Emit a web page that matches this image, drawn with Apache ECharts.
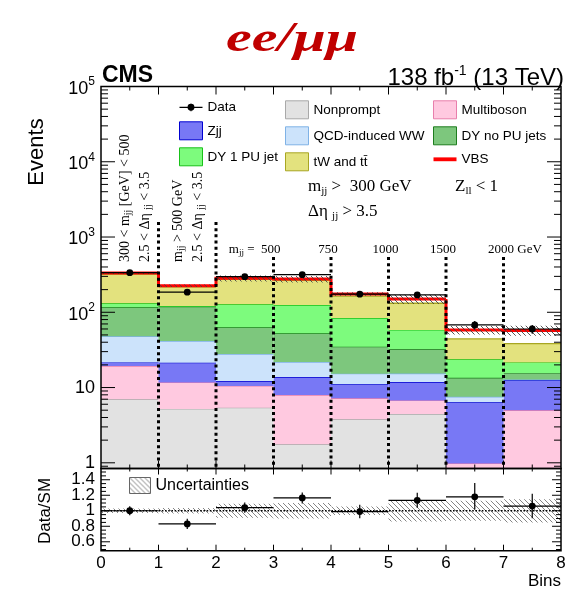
<!DOCTYPE html>
<html><head><meta charset="utf-8">
<script src="https://cdn.jsdelivr.net/npm/echarts@6/dist/echarts.min.js"></script>
<style>html,body{margin:0;padding:0;background:#fff}#c{width:569px;height:591px}</style>
</head><body><div id="c"></div>
<script>
// ---------------- data ----------------
const bins = [0, 1, 2, 3, 4, 5, 6, 7];
const nonprompt  = [6.97, 5.2, 5.4, 1.76, 3.78, 4.44, 0, 0];
const multiboson = [12.3, 6.5, 5.1, 6.2, 3.4, 2.3, 0.98, 4.98];
const zjj        = [2.3, 9.7, 1.7, 5.85, 3.85, 5.07, 5.38, 7.6];
const qcdWW      = [26.4, 20.1, 15.7, 8.0, 4.25, 3.5, 1.19, 0.2];
const dyNoPU     = [68.5, 77.2, 35.3, 30.8, 19.6, 17.2, 5.94, 2.85];
const dy1PU      = [15.3, 2.5, 64.5, 72.4, 49.1, 25.7, 10.2, 5.95];
const tWtt       = [190, 97, 147, 141, 80, 73.6, 20.5, 16.8];
const vbs        = [10, 7, 8, 10, 11, 18, 14, 19];
const dataVals   = [336, 185, 297, 316, 174, 170, 68, 60];
const dataErr    = [18, 14, 17, 18, 13, 13, 8.5, 8];
const relUnc     = [0.03, 0.035, 0.09, 0.10, 0.055, 0.14, 0.13, 0.15];
const ratioVals  = [1.00, 0.83, 1.04, 1.165, 0.99, 1.135, 1.18, 1.06];
const ratioErrUp = [0.058, 0.066, 0.066, 0.07, 0.086, 0.097, 0.177, 0.16];
const ratioErrDn = [0.058, 0.066, 0.066, 0.07, 0.086, 0.097, 0.163, 0.155];
const yMajorExp  = [0, 1, 2, 3, 4, 5];
const ratioLabelVals = [0.6, 0.8, 1.0, 1.2, 1.4];
const xLabelVals = [0, 1, 2, 3, 4, 5, 6, 7, 8];
const dividerEdges = [1, 2, 3, 4, 5, 6, 7];

// ---------------- styles / layout ----------------
const SANS = '"Liberation Sans", Arial, sans-serif';
const SERIF = '"Liberation Serif", "Times New Roman", serif';
const yMinLog = Math.log10(0.84), yMaxLog = 5;
const rMin = 0.485, rMax = 1.545;
const dividerTopLog = [3.2, 3.2, 2.733, 2.733, 2.733, 2.733, 2.733];

const components = [
  {name: 'Nonprompt', vals: nonprompt, fill: '#e2e2e2', line: '#a9a9a9'},
  {name: 'Multiboson', vals: multiboson, fill: '#ffc9e0', line: '#e87fac'},
  {name: 'Zjj', vals: zjj, fill: '#7878f5', line: '#0000d0'},
  {name: 'QCD-induced WW', vals: qcdWW, fill: '#cce3fb', line: '#7fb2e6'},
  {name: 'DY no PU jets', vals: dyNoPU, fill: '#7dc77d', line: '#1e7d1e'},
  {name: 'DY 1 PU jet', vals: dy1PU, fill: '#7dfb7d', line: '#19c119'},
  {name: 'tW and tt\u0304', vals: tWtt, fill: '#e3e27e', line: '#a8a623'}
];

function hatch(color, s, lw) {
  const c = document.createElement('canvas');
  c.width = s; c.height = s;
  const ctx = c.getContext('2d');
  ctx.strokeStyle = color; ctx.lineWidth = lw;
  ctx.beginPath();
  for (const o of [-s, 0, s]) { ctx.moveTo(o, 0); ctx.lineTo(o + s, s); }
  ctx.stroke();
  return {image: c, repeat: 'repeat'};
}
const hatchMain = hatch('#444', 5, 0.9);
const hatchRatio = hatch('#777', 5, 0.9);

const lg = v => Math.max(yMinLog, Math.log10(Math.max(v, 1e-9)));

// cumulative stacks
const cum = bins.map(() => 0);
const stackSeries = components.map(c => {
  const data = bins.map(i => {
    const lo = cum[i]; const hi = lo + c.vals[i]; cum[i] = hi;
    return [i, lg(lo), lg(hi)];
  });
  return {
    type: 'custom', name: c.name, xAxisIndex: 0, yAxisIndex: 0, z: 2, silent: true,
    itemStyle: {color: c.fill, borderColor: c.line, borderWidth: 1},
    data,
    renderItem(params, api) {
      const i = api.value(0), lo = api.value(1), hi = api.value(2);
      if (!(hi > lo)) return;
      const p0 = api.coord([i, lo]), p1 = api.coord([i + 1, hi]);
      return {type: 'group', children: [
        {type: 'rect', shape: {x: p0[0], y: p1[1], width: p1[0] - p0[0], height: p0[1] - p1[1]}, style: {fill: c.fill}},
        {type: 'line', shape: {x1: p0[0], y1: p1[1], x2: p1[0], y2: p1[1]}, style: {stroke: c.line, lineWidth: 1.3}}
      ]};
    }
  };
});
const totals = bins.map(i => cum[i] + vbs[i]);

// ticks (decoration)
const mainYTicks = yMajorExp.map(e => [e, 1]);
for (let e = -1; e <= 4; e++) for (let k = 2; k <= 9; k++) {
  const v = Math.log10(k) + e; if (v > yMinLog && v < yMaxLog) mainYTicks.push([v, 0]);
}
const mainXTicks = [];
for (let k = 1; k < 16; k++) mainXTicks.push([k / 2, k % 2 === 0 ? 1 : 0]);
const ratioYTicks = [];
for (let k = 10; k <= 30; k++) { const v = k * 0.05; if (v > rMin && v < rMax) ratioYTicks.push([v, k % 4 === 0 ? 1 : 0]); }

function tickSeries(xi, yi, yTicks, xTicks, yLen, xLen) {
  return [{
    type: 'custom', xAxisIndex: xi, yAxisIndex: yi, z: 20, silent: true,
    data: yTicks,
    renderItem(params, api) {
      const cs = params.coordSys; const p = api.coord([0, api.value(0)]);
      const len = api.value(1) ? yLen[0] : yLen[1];
      return {type: 'group', children: [
        {type: 'line', shape: {x1: cs.x, y1: p[1], x2: cs.x + len, y2: p[1]}, style: {stroke: '#000', lineWidth: 1}},
        {type: 'line', shape: {x1: cs.x + cs.width, y1: p[1], x2: cs.x + cs.width - len, y2: p[1]}, style: {stroke: '#000', lineWidth: 1}}
      ]};
    }
  }, {
    type: 'custom', xAxisIndex: xi, yAxisIndex: yi, z: 20, silent: true,
    data: xTicks,
    renderItem(params, api) {
      const cs = params.coordSys; const p = api.coord([api.value(0), 0]);
      const len = api.value(1) ? xLen[0] : xLen[1];
      return {type: 'group', children: [
        {type: 'line', shape: {x1: p[0], y1: cs.y + cs.height, x2: p[0], y2: cs.y + cs.height - len}, style: {stroke: '#000', lineWidth: 1}},
        {type: 'line', shape: {x1: p[0], y1: cs.y, x2: p[0], y2: cs.y + len}, style: {stroke: '#000', lineWidth: 1}}
      ]};
    }
  }, {
    type: 'custom', xAxisIndex: xi, yAxisIndex: yi, z: 21, silent: true,
    data: [[0, 0]],
    renderItem(params) {
      const cs = params.coordSys;
      return {type: 'rect', shape: {x: cs.x, y: cs.y, width: cs.width, height: cs.height}, style: {fill: 'none', stroke: '#000', lineWidth: 1.5}};
    }
  }];
}

const series = [
  ...stackSeries,
  { // VBS: red line at total
    type: 'custom', name: 'VBS', xAxisIndex: 0, yAxisIndex: 0, z: 4, silent: true,
    itemStyle: {color: '#ff0000'},
    data: bins.map(i => [i, lg(totals[i]), lg(totals[i > 0 ? i - 1 : 0])]),
    renderItem(params, api) {
      const i = api.value(0);
      const a = api.coord([i, api.value(1)]), b = api.coord([i + 1, api.value(1)]), c = api.coord([i, api.value(2)]);
      return {type: 'polyline', shape: {points: [[c[0], c[1]], [a[0], a[1]], [b[0], b[1]]]}, style: {stroke: '#ff0000', lineWidth: 3, fill: 'none'}};
    }
  },
  { // uncertainty band on total
    type: 'custom', xAxisIndex: 0, yAxisIndex: 0, z: 5, silent: true,
    data: bins.map(i => [i, lg(totals[i] * (1 - relUnc[i])), lg(totals[i] * (1 + relUnc[i]))]),
    renderItem(params, api) {
      const i = api.value(0);
      const p0 = api.coord([i, api.value(1)]), p1 = api.coord([i + 1, api.value(2)]);
      return {type: 'rect', shape: {x: p0[0], y: p1[1], width: p1[0] - p0[0], height: p0[1] - p1[1]}, style: {fill: hatchMain}};
    }
  },
  { // bin dividers
    type: 'custom', xAxisIndex: 0, yAxisIndex: 0, z: 6, silent: true,
    data: dividerEdges.map((b, k) => [b, dividerTopLog[k]]),
    renderItem(params, api) {
      const p0 = api.coord([api.value(0), api.value(1)]), p1 = api.coord([api.value(0), yMinLog]);
      return {type: 'line', shape: {x1: p0[0], y1: p0[1], x2: p1[0], y2: p1[1]}, style: {stroke: '#000', lineWidth: 3, lineDash: [3, 3.2]}};
    }
  },
  { // data points
    type: 'custom', name: 'Data', xAxisIndex: 0, yAxisIndex: 0, z: 8, silent: true,
    itemStyle: {color: '#000'},
    data: bins.map(i => [i, Math.log10(dataVals[i]), Math.log10(dataVals[i] - dataErr[i]), Math.log10(dataVals[i] + dataErr[i])]),
    renderItem(params, api) {
      const i = api.value(0);
      const pc = api.coord([i + 0.5, api.value(1)]), pl = api.coord([i, api.value(1)]), pr = api.coord([i + 1, api.value(1)]);
      const plo = api.coord([i + 0.5, api.value(2)]), phi = api.coord([i + 0.5, api.value(3)]);
      return {type: 'group', children: [
        {type: 'line', shape: {x1: pl[0], y1: pc[1], x2: pr[0], y2: pc[1]}, style: {stroke: '#000', lineWidth: 1.2}},
        {type: 'line', shape: {x1: pc[0], y1: plo[1], x2: pc[0], y2: phi[1]}, style: {stroke: '#000', lineWidth: 1.2}},
        {type: 'circle', shape: {cx: pc[0], cy: pc[1], r: 3.4}, style: {fill: '#000'}}
      ]};
    }
  },
  ...tickSeries(0, 0, mainYTicks, mainXTicks, [14, 7], [8, 4]),
  { // ratio uncertainty band
    type: 'custom', name: 'Uncertainties', xAxisIndex: 1, yAxisIndex: 1, z: 3, silent: true,
    itemStyle: {color: hatchRatio, borderColor: '#666', borderWidth: 1},
    data: bins.map(i => [i, 1 - relUnc[i], 1 + relUnc[i]]),
    renderItem(params, api) {
      const i = api.value(0);
      const p0 = api.coord([i, api.value(1)]), p1 = api.coord([i + 1, api.value(2)]);
      return {type: 'rect', shape: {x: p0[0], y: p1[1], width: p1[0] - p0[0], height: p0[1] - p1[1]}, style: {fill: hatchRatio}};
    }
  },
  { // ratio reference line
    type: 'custom', xAxisIndex: 1, yAxisIndex: 1, z: 4, silent: true,
    data: [[0, 1]],
    renderItem(params, api) {
      const a = api.coord([0, 1]), b = api.coord([8, 1]);
      return {type: 'line', shape: {x1: a[0], y1: a[1], x2: b[0], y2: b[1]}, style: {stroke: '#000', lineWidth: 1.6, lineDash: [1.6, 1.6]}};
    }
  },
  { // ratio points
    type: 'custom', xAxisIndex: 1, yAxisIndex: 1, z: 8, silent: true,
    data: bins.map(i => [i, ratioVals[i], ratioVals[i] - ratioErrDn[i], ratioVals[i] + ratioErrUp[i]]),
    renderItem(params, api) {
      const i = api.value(0);
      const pc = api.coord([i + 0.5, api.value(1)]), pl = api.coord([i, api.value(1)]), pr = api.coord([i + 1, api.value(1)]);
      const plo = api.coord([i + 0.5, api.value(2)]), phi = api.coord([i + 0.5, api.value(3)]);
      return {type: 'group', children: [
        {type: 'line', shape: {x1: pl[0], y1: pc[1], x2: pr[0], y2: pc[1]}, style: {stroke: '#000', lineWidth: 1.2}},
        {type: 'line', shape: {x1: pc[0], y1: plo[1], x2: pc[0], y2: phi[1]}, style: {stroke: '#000', lineWidth: 1.2}},
        {type: 'circle', shape: {cx: pc[0], cy: pc[1], r: 3.4}, style: {fill: '#000'}}
      ]};
    }
  },
  { // ratio axis tick labels (drawn through the ratio axis scale)
    type: 'custom', xAxisIndex: 1, yAxisIndex: 1, z: 22, silent: true, clip: false,
    data: ratioLabelVals.map(v => [0, v]),
    renderItem(params, api) {
      const cs = params.coordSys; const v = api.value(1); const p = api.coord([0, v]);
      return {type: 'text', x: cs.x - 6, y: p[1], style: {text: String(Math.round(v * 10) / 10),
        font: '17px ' + SANS, fill: '#000', align: 'right', verticalAlign: 'middle'}};
    }
  },
  ...tickSeries(1, 1, ratioYTicks, mainXTicks, [9, 5], [6, 3])
];

const legendText = {fontFamily: SANS, fontSize: 13.5, color: '#000'};
function legendCol(left, items) {
  return {
    left, top: 100.3, orient: 'vertical', itemGap: 7, itemWidth: 23, itemHeight: 18,
    selectedMode: false, textStyle: legendText, padding: 0,
    data: items
  };
}
const boxItem = (name) => {
  const c = components.find(x => x.name === name);
  return {name, icon: 'rect', itemStyle: {color: c.fill, borderColor: c.line, borderWidth: 1}};
};

const option = {
  animation: false,
  backgroundColor: '#fff',
  grid: [
    {left: 101, top: 86.5, width: 460, height: 382, containLabel: false, outerBoundsMode: 'none'},
    {left: 101, top: 468.5, width: 460, height: 82.2, containLabel: false, outerBoundsMode: 'none'}
  ],
  xAxis: [
    {gridIndex: 0, type: 'value', min: 0, max: 8, show: false},
    {gridIndex: 1, type: 'value', min: 0, max: 8, interval: 1,
     axisLine: {show: false}, axisTick: {show: false}, splitLine: {show: false},
     axisLabel: {customValues: xLabelVals, fontFamily: SANS, fontSize: 17, color: '#000', margin: 4}}
  ],
  yAxis: [
    {gridIndex: 0, type: 'value', min: yMinLog, max: yMaxLog,
     axisLine: {show: false}, axisTick: {show: false}, splitLine: {show: false},
     axisLabel: {customValues: yMajorExp, fontFamily: SANS, fontSize: 18, color: '#000', margin: 6, hideOverlap: false,
       formatter: v => { const e = Math.round(v); if (e === 0) return '1'; if (e === 1) return '10'; return '{b|10}{s|' + e + '}'; },
       rich: {
         b: {fontFamily: SANS, fontSize: 18, color: '#000', padding: [5, 0, 0, 0]},
         s: {fontFamily: SANS, fontSize: 12, color: '#000', padding: [0, 0, 9, 0]}
       }}},
    {gridIndex: 1, type: 'value', min: rMin, max: rMax,
     axisLine: {show: false}, axisTick: {show: false}, splitLine: {show: false}, axisLabel: {show: false}}
  ],
  legend: [
    legendCol(179, [
      {name: 'Data', icon: 'path://M0,3.4H24V4.6H0Z M11.4,0H12.6V8H11.4Z M15.6,4A3.6,3.6,0,1,1,8.4,4A3.6,3.6,0,1,1,15.6,4Z', itemStyle: {color: '#000', borderWidth: 0}},
      boxItem('Zjj'), boxItem('DY 1 PU jet')]),
    legendCol(285, [boxItem('Nonprompt'), boxItem('QCD-induced WW'), boxItem('tW and tt\u0304')]),
    legendCol(433, [boxItem('Multiboson'), boxItem('DY no PU jets'),
      {name: 'VBS', icon: 'path://M0,0H24V4H0Z', itemStyle: {color: '#ff0000', borderWidth: 0}}]),
    {left: 129, top: 477, itemWidth: 21, itemHeight: 16, selectedMode: false, padding: 0,
     textStyle: {fontFamily: SANS, fontSize: 16, color: '#000'},
     data: [{name: 'Uncertainties', icon: 'rect', itemStyle: {color: hatchRatio, borderColor: '#666', borderWidth: 1}}]}
  ],
  series
};

const chart = echarts.init(document.getElementById('c'), null, {renderer: 'canvas', width: 569, height: 591});
chart.setOption(option);

const px = b => chart.convertToPixel({xAxisIndex: 0}, b);
const serifRich = (fs, sfs, pad) => ({
  n: {fontFamily: SERIF, fontSize: fs, fill: '#000'},
  s: {fontFamily: SERIF, fontSize: sfs, fill: '#000', padding: [pad, 0, 0, 0]}
});
const txt = (x, y, text, extra) => Object.assign({type: 'text', x, y, silent: true, z: 30,
  style: Object.assign({text, fill: '#000', align: 'left', verticalAlign: 'middle'}, extra.style || {})}, extra.el || {});

const graphics = [
  txt(292, 40, 'ee/\u03bc\u03bc', {style: {font: 'italic bold 42px ' + SERIF, fill: '#c00000', align: 'center'}, el: {scaleX: 1.38}}),
  txt(102, 76, 'CMS', {style: {font: 'bold 23px ' + SANS}}),
  txt(564, 76, '{a|138 fb}{s|-1}{a| (13 TeV)}', {style: {align: 'right', rich: {
    a: {fontFamily: SANS, fontSize: 24, fill: '#000', padding: [4, 0, 0, 0]},
    s: {fontFamily: SANS, fontSize: 14, fill: '#000', padding: [0, 0, 10, 0]}}}}),
  txt(37, 152, 'Events', {style: {font: '22px ' + SANS, align: 'center'}, el: {rotation: Math.PI / 2}}),
  txt(45, 511, 'Data/SM', {style: {font: '17px ' + SANS, align: 'center'}, el: {rotation: Math.PI / 2}}),
  txt(561, 581, 'Bins', {style: {font: '17px ' + SANS, align: 'right'}}),
  // rotated bin annotations
  txt(125, 262, '{n|300 < m}{s|jj}{n| [GeV] < 500}', {style: {rich: serifRich(14, 10, 7)}, el: {rotation: Math.PI / 2}}),
  txt(145, 262, '{n|2.5 < \u0394\u03b7 }{s|jj}{n| < 3.5}', {style: {rich: serifRich(14, 10, 7)}, el: {rotation: Math.PI / 2}}),
  txt(178, 262, '{n|m}{s|jj}{n| > 500 GeV}', {style: {rich: serifRich(14, 10, 7)}, el: {rotation: Math.PI / 2}}),
  txt(198, 262, '{n|2.5 < \u0394\u03b7 }{s|jj}{n| < 3.5}', {style: {rich: serifRich(14, 10, 7)}, el: {rotation: Math.PI / 2}}),
  // selection text
  txt(308, 187, '{n|m}{s|jj}{n| >  300 GeV}', {style: {rich: serifRich(17, 11, 8)}}),
  txt(455, 187, '{n|Z}{s|ll}{n| < 1}', {style: {rich: serifRich(17, 11, 8)}}),
  txt(308, 212, '{n|\u0394\u03b7 }{s|jj}{n| > 3.5}', {style: {rich: serifRich(17, 11, 8)}}),
  // boundary labels
  txt(px(3) + 7, 250, '{n|m}{s|jj}{n| =  500}', {style: {align: 'right', rich: serifRich(13, 9, 6)}}),
  txt(px(4) - 3, 250, '750', {style: {font: '13px ' + SERIF, align: 'center'}}),
  txt(px(5) - 3, 250, '1000', {style: {font: '13px ' + SERIF, align: 'center'}}),
  txt(px(6) - 3, 250, '1500', {style: {font: '13px ' + SERIF, align: 'center'}}),
  txt(px(7) - 15.5, 250, '2000 GeV', {style: {font: '13px ' + SERIF, align: 'left'}})
];
chart.setOption({graphic: graphics});
</script>
</body></html>
